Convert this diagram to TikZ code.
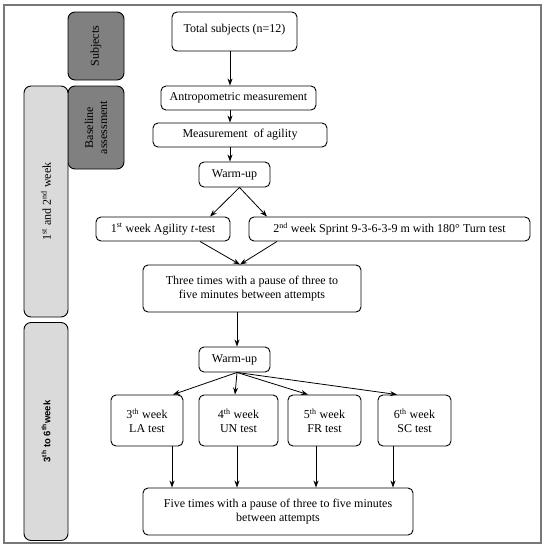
\documentclass[tikz,border=0pt]{standalone}
\usepackage{fontspec}
\setmainfont{Liberation Serif}
\setsansfont{Liberation Sans}
\usetikzlibrary{arrows.meta,positioning,calc}
\definecolor{sidedark}{RGB}{128,128,128}
\definecolor{sidelight}{RGB}{218,218,218}
\definecolor{framegray}{RGB}{120,120,120}

\begin{document}
\begin{tikzpicture}[
    x=1pt, y=-1pt,
    font=\fontsize{12}{14}\selectfont,
    box/.style={rectangle, draw=black, line width=0.9pt, rounded corners=5pt, align=center, inner sep=1pt},
    phase/.style={rectangle, draw=black, line width=0.9pt, rounded corners=7pt, fill=sidedark, align=center, rotate=90, inner sep=1pt},
    period/.style={rectangle, draw=black, line width=0.9pt, rounded corners=7pt, fill=sidelight, align=center, rotate=90, inner sep=1pt},
    arr/.style={-{Stealth[length=7pt,width=5pt]}, line width=0.8pt}
]
    \useasboundingbox (0,0) rectangle (545,550);
    \draw[framegray, line width=1.5pt] (4,5) rectangle (541,543);

    % side labels
    \node[phase, minimum width=68pt, minimum height=56pt] (subj) at (96,46) {Subjects};
    \node[phase, minimum width=83pt, minimum height=56pt] (base) at (96,127.5) {Baseline\\assessment};
    \node[period, minimum width=231pt, minimum height=44pt] (wk12) at (46,201.5) {1\textsuperscript{st} and 2\textsuperscript{nd} week};
    \node[period, minimum width=218pt, minimum height=44pt, font=\sffamily\bfseries\fontsize{9.5}{12}\selectfont] (wk36) at (46,431.5) {\raisebox{8pt}{}3\textsuperscript{th} to 6\textsuperscript{th}week};

    % flow
    \node[box, minimum width=125pt, minimum height=39pt, text depth=7pt] (total) at (234.5,31.5) {Total subjects (n=12)};
    \node[box, minimum width=155pt, minimum height=24pt] (antro) at (238.5,98) {Antropometric measurement};
    \node[box, minimum width=174pt, minimum height=24pt] (agil) at (240,135) {Measurement\ \ of agility};
    \node[box, minimum width=71pt, minimum height=25pt] (warm1) at (234.5,174.5) {Warm-up};
    \node[box, minimum width=134pt, minimum height=24pt] (week1) at (163,229) {1\textsuperscript{st} week Agility \textit{t}-test};
    \node[box, minimum width=281pt, minimum height=24pt] (week2) at (389.5,229) {2\textsuperscript{nd} week Sprint 9-3-6-3-9 m with 180° Turn test};
    \node[box, minimum width=218pt, minimum height=47pt] (three) at (252,288.5) {Three times with a pause of three to\\five minutes between attempts};
    \node[box, minimum width=71pt, minimum height=25pt] (warm2) at (234.5,359.5) {Warm-up};
    \node[box, minimum width=72pt, minimum height=51pt] (la) at (147,420.5) {3\textsuperscript{th} week\\LA test};
    \node[box, minimum width=79pt, minimum height=51pt] (un) at (238.5,420.5) {4\textsuperscript{th} week\\UN test};
    \node[box, minimum width=73pt, minimum height=51pt] (fr) at (324.5,420.5) {5\textsuperscript{th} week\\FR test};
    \node[box, minimum width=73pt, minimum height=51pt] (sc) at (414.5,420.5) {6\textsuperscript{th} week\\SC test};
    \node[box, minimum width=270pt, minimum height=47pt] (five) at (278,511.5) {Five times with a pause of three to five minutes\\between attempts};

    \coordinate (axis) at (230,0);
    \draw[arr] (total.south -| axis) -- (antro.north -| axis);
    \draw[arr] (antro.south -| axis) -- (agil.north -| axis);
    \draw[arr] (agil.south -| axis) -- (warm1.north -| axis);
    \draw[arr] ([xshift=5pt]warm1.south) -- ([xshift=47pt]week1.north);
    \draw[arr] ([xshift=5pt]warm1.south) -- ([xshift=-122.5pt]week2.north);
    \draw[arr] ([xshift=37pt]week1.south) -- ([xshift=-12pt]three.north);
    \draw[arr] ([xshift=-112.5pt]week2.south) -- ([xshift=-12pt]three.north);
    \draw[arr] ([xshift=-15pt]three.south) -- ([xshift=2.5pt]warm2.north);
    \draw[arr] ([xshift=2.5pt]warm2.south) -- ([xshift=26pt]la.north);
    \draw[arr] ([xshift=2.5pt]warm2.south) -- ([xshift=-3.5pt]un.north);
    \draw[arr] ([xshift=2.5pt]warm2.south) -- ([xshift=-16.5pt]fr.north);
    \draw[arr] ([xshift=2.5pt]warm2.south) -- ([xshift=-17.5pt]sc.north);
    \draw[arr] ([xshift=25pt]la.south) -- ([xshift=25pt]la.south |- five.north);
    \draw[arr] ([xshift=-1.5pt]un.south) -- ([xshift=-1.5pt]un.south |- five.north);
    \draw[arr] ([xshift=-8.5pt]fr.south) -- ([xshift=-8.5pt]fr.south |- five.north);
    \draw[arr] ([xshift=-21.5pt]sc.south) -- ([xshift=-21.5pt]sc.south |- five.north);
\end{tikzpicture}
\end{document}
